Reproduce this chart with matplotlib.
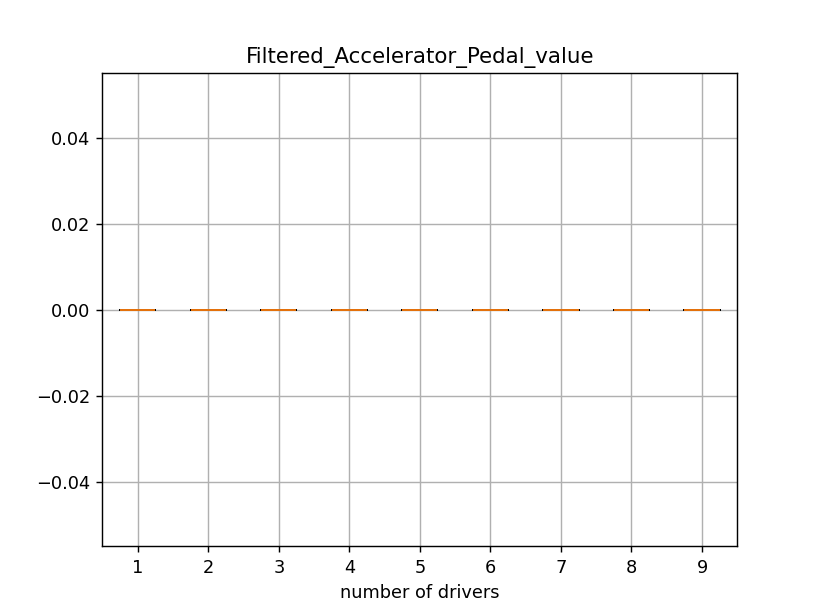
import matplotlib
matplotlib.use("Agg")
import matplotlib.pyplot as plt

# each driver's pedal values are all zero in the reference
drivers = [1, 2, 3, 4, 5, 6, 7, 8, 9]
pedal_values = [[0.0, 0.0, 0.0, 0.0] for _ in drivers]

fig, ax = plt.subplots(figsize=(6.4, 4.8), dpi=128)
ax.boxplot(pedal_values, positions=drivers)
ax.set_xticks(drivers)
ax.set_xticklabels([str(d) for d in drivers])
ax.grid(True)
ax.set_title("Filtered_Accelerator_Pedal_value")
ax.set_xlabel("number of drivers")
fig.savefig("out.png", dpi=128)
